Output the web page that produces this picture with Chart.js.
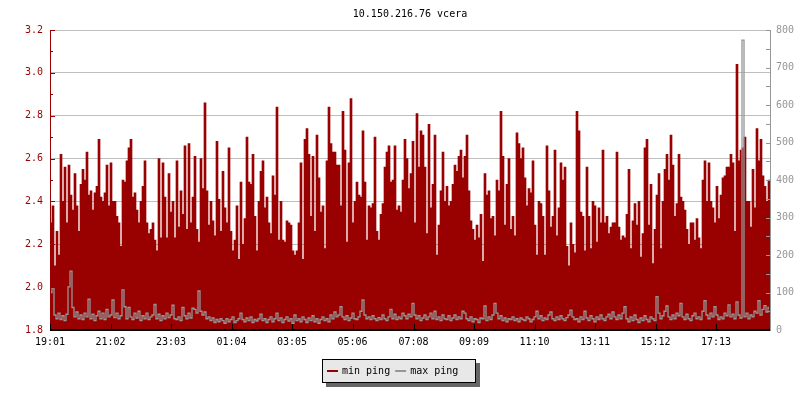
<!DOCTYPE html>
<html>
<head>
<meta charset="utf-8">
<script src="https://cdn.jsdelivr.net/npm/chart.js@4.4.1/dist/chart.umd.min.js"></script>
<style>
  html, body { margin: 0; padding: 0; background: #fff; }
  canvas { display: block; }
</style>
</head>
<body>
<canvas id="chart" width="800" height="400"></canvas>
<script>
// Ping chart for 10.150.216.76 (yesterday), one sample every 4 minutes
var chartTitle = '10.150.216.76 vcera';
var seriesLabels = ['min ping', 'max ping'];
var tickLabels = ['19:01', '21:02', '23:03', '01:04', '03:05', '05:06', '07:08', '09:09', '11:10', '13:11', '15:12', '17:13'];
var tickMinutes = [0, 121, 242, 363, 484, 605, 727, 848, 969, 1090, 1211, 1332];
var spanMinutes = 1440;
var stepMinutes = 4;

// left axis (ms)
var minPing = [
    2.30, 2.38, 2.10, 2.26, 2.15, 2.62, 2.40, 2.56, 2.30, 2.57,
    2.43, 2.36, 2.53, 2.38, 2.26, 2.48, 2.55, 2.50, 2.63, 2.43,
    2.45, 2.36, 2.44, 2.47, 2.69, 2.42, 2.40, 2.44, 2.57, 2.38,
    2.58, 2.40, 2.40, 2.33, 2.30, 2.19, 2.50, 2.49, 2.59, 2.65,
    2.69, 2.42, 2.44, 2.36, 2.30, 2.40, 2.47, 2.59, 2.30, 2.25,
    2.27, 2.30, 2.22, 2.17, 2.60, 2.23, 2.58, 2.42, 2.23, 2.53,
    2.35, 2.40, 2.23, 2.59, 2.28, 2.45, 2.34, 2.66, 2.27, 2.67,
    2.30, 2.42,
    2.61, 2.27, 2.21, 2.60, 2.46, 2.86, 2.45, 2.29, 2.40, 2.31,
    2.24, 2.68, 2.41, 2.26, 2.54, 2.37, 2.30, 2.65, 2.26, 2.17,
    2.22, 2.38, 2.13, 2.49, 2.20, 2.32, 2.70, 2.49, 2.48, 2.62,
    2.33, 2.17, 2.40, 2.54, 2.59, 2.37, 2.42, 2.30, 2.25, 2.52,
    2.43, 2.84, 2.22, 2.40, 2.22, 2.21, 2.31, 2.30, 2.29, 2.17,
    2.15, 2.17, 2.30, 2.58, 2.13, 2.69, 2.74, 2.62, 2.33, 2.61,
    2.26, 2.71, 2.51, 2.35, 2.38, 2.18, 2.59, 2.84, 2.67, 2.63,
    2.63, 2.57,
    2.57, 2.38, 2.82, 2.64, 2.21, 2.58, 2.88, 2.30, 2.40, 2.49,
    2.43, 2.42, 2.73, 2.49, 2.22, 2.38, 2.37, 2.39, 2.70, 2.26,
    2.22, 2.34, 2.39, 2.56, 2.63, 2.66, 2.49, 2.50, 2.66, 2.36,
    2.38, 2.35, 2.50, 2.69, 2.60, 2.46, 2.53, 2.68, 2.30, 2.81,
    2.56, 2.73, 2.71, 2.56, 2.25, 2.76, 2.37, 2.48, 2.71, 2.15,
    2.29, 2.45, 2.63, 2.40, 2.47, 2.38, 2.40, 2.48, 2.57, 2.54,
    2.61, 2.64, 2.51, 2.61, 2.71, 2.45, 2.31, 2.27, 2.22, 2.29,
    2.23, 2.34,
    2.12, 2.53, 2.43, 2.45, 2.32, 2.33, 2.24, 2.50, 2.45, 2.82,
    2.61, 2.29, 2.48, 2.60, 2.27, 2.33, 2.24, 2.72, 2.67, 2.60,
    2.65, 2.51, 2.38, 2.46, 2.44, 2.59, 2.29, 2.15, 2.40, 2.39,
    2.33, 2.15, 2.66, 2.45, 2.28, 2.33, 2.64, 2.24, 2.37, 2.58,
    2.50, 2.56, 2.19, 2.10, 2.30, 2.20, 2.16, 2.82, 2.73, 2.35,
    2.33, 2.17, 2.56, 2.33, 2.18, 2.40, 2.38, 2.21, 2.37, 2.30,
    2.64, 2.30, 2.33, 2.25, 2.28, 2.30, 2.30, 2.63, 2.28, 2.22,
    2.24, 2.23,
    2.34, 2.55, 2.18, 2.31, 2.39, 2.29, 2.40, 2.14, 2.25, 2.65,
    2.69, 2.29, 2.48, 2.11, 2.27, 2.43, 2.53, 2.18, 2.40, 2.55,
    2.62, 2.50, 2.71, 2.57, 2.33, 2.39, 2.62, 2.42, 2.40, 2.36,
    2.27, 2.20, 2.30, 2.30, 2.22, 2.32, 2.23, 2.18, 2.50, 2.59,
    2.40, 2.58, 2.40, 2.37, 2.30, 2.47, 2.32, 2.43, 2.51, 2.52,
    2.56, 2.56, 2.62, 2.58, 2.26, 3.04, 2.59, 2.64, 2.65, 2.70,
    2.40, 2.40, 2.28, 2.55, 2.37, 2.74, 2.59, 2.69, 2.52, 2.47,
    2.40, 2.50
];

// right axis (ms)
var maxPing = [
    100, 112, 40, 30, 45, 28, 38, 25, 42, 115,
    157, 60, 35, 48, 30, 40, 28, 45, 35, 82,
    30, 42, 25, 38, 50, 30, 45, 28, 55, 35,
    40, 80, 33, 45, 30, 38, 107, 62, 30, 60,
    35, 28, 45, 32, 50, 25, 38, 30, 45, 28,
    35, 40, 68, 30, 42, 25, 38, 30, 45, 33,
    40, 66, 30, 28, 35, 25, 60, 38, 30, 45,
    32, 58,
    55, 45, 104, 50, 40, 48, 30, 35, 25, 32,
    20, 28, 22, 30, 25, 18, 30, 22, 28, 35,
    20, 25, 30, 45, 28, 22, 32, 25, 35, 20,
    28, 24, 30, 42, 25, 30, 20, 28, 35, 22,
    30, 45, 25, 32, 20, 28, 35, 24, 30, 18,
    40, 25, 30, 22, 35, 28, 20, 32, 25, 38,
    22, 30, 18, 28, 35, 25, 30, 22, 40, 30,
    48, 35,
    40, 62, 35, 28, 38, 25, 32, 45, 30, 28,
    35, 50, 80, 40, 30, 35, 28, 38, 30, 25,
    33, 28, 40, 30, 25, 35, 55, 30, 42, 28,
    35, 30, 45, 38, 30, 42, 35, 71, 40, 30,
    38, 25, 32, 40, 28, 35, 45, 30, 50, 28,
    35, 25, 40, 30, 28, 38, 25, 32, 40, 28,
    35, 30, 50, 45, 30, 25, 35, 22, 30, 28,
    20, 32,
    30, 64, 25, 35, 28, 40, 71, 45, 30, 38,
    25, 32, 22, 30, 28, 35, 25, 30, 22, 32,
    28, 25, 35, 30, 22, 28, 35, 50, 30, 38,
    25, 32, 28, 40, 48, 30, 25, 35, 28, 38,
    30, 25, 33, 40, 53, 35, 28, 30, 22, 35,
    28, 50, 32, 25, 38, 30, 22, 35, 28, 40,
    30, 25, 35, 42, 30, 48, 35, 28, 40, 30,
    45, 62,
    30, 22, 35, 25, 40, 28, 20, 32, 25, 38,
    28, 22, 35, 30, 25, 89, 45, 30, 38, 50,
    64, 35, 28, 40, 30, 45, 38, 71, 35, 28,
    42, 30, 25, 38, 45, 30, 35, 28, 50, 78,
    40, 30, 45, 35, 62, 40, 28, 35, 30, 45,
    38, 67, 35, 42, 30, 75, 40, 32, 773, 35,
    45, 30, 40, 35, 50, 45, 78, 40, 55, 65,
    48, 60
];

var RED = '#990000';
var GRAY = '#969696';
var GRID = '#bebebe';
var FONT = "'DejaVu Sans Mono', monospace";

function toPoints(values) {
    return values.map(function (v, i) {
        return { x: i * stepMinutes + stepMinutes / 2, y: v };
    });
}

// axis lines and the short inside tick marks
var axisDecor = {
    id: 'axisDecor',
    afterDatasetsDraw: function (chart) {
        var ctx = chart.ctx, a = chart.chartArea, s = chart.scales;
        ctx.save();
        ctx.fillStyle = RED;
        ctx.fillRect(a.left, a.top, 1, a.bottom - a.top);
        s.y.ticks.forEach(function (t, i) {
            var y = Math.round(s.y.getPixelForValue(t.value));
            ctx.fillRect(a.left, y, i % 2 ? 3 : 5, 1);
        });
        ctx.fillStyle = GRAY;
        ctx.fillRect(a.right, a.top, 1, a.bottom - a.top + 1);
        s.y1.ticks.forEach(function (t) {
            var y = Math.round(s.y1.getPixelForValue(t.value));
            ctx.fillRect(a.right - 4, y, 4, 1);
        });
        ctx.fillStyle = '#000';
        ctx.fillRect(a.left, a.bottom - 1, a.right - a.left, 2);
        s.x.ticks.forEach(function (t) {
            var x = Math.round(s.x.getPixelForValue(t.value));
            ctx.fillRect(x, a.bottom - 6, 1, 6);
        });
        ctx.restore();
    }
};

// boxed legend with drop shadow under the plot
var boxLegend = {
    id: 'boxLegend',
    afterDraw: function (chart) {
        var ctx = chart.ctx;
        var bx = 322, by = 359, bw = 154, bh = 24;
        ctx.save();
        ctx.fillStyle = '#666666';
        ctx.fillRect(bx + 4, by + 4, bw, bh);
        ctx.fillStyle = '#e8e8e8';
        ctx.fillRect(bx, by, bw, bh);
        ctx.strokeStyle = '#000';
        ctx.lineWidth = 1;
        ctx.strokeRect(bx + 0.5, by + 0.5, bw - 1, bh - 1);
        ctx.font = '10px ' + FONT;
        ctx.textBaseline = 'middle';
        var cx = bx + 5, cy = by + 12;
        [0, 1].forEach(function (i) {
            var ds = chart.data.datasets[i];
            ctx.fillStyle = ds.legendColor;
            ctx.fillRect(cx, cy - 1, 11, 2);
            cx += 15;
            ctx.fillStyle = '#000';
            ctx.fillText(ds.label, cx, cy);
            cx += ctx.measureText(ds.label).width + 5;
        });
        ctx.restore();
    }
};

new Chart(document.getElementById('chart'), {
    type: 'bar',
    data: {
        datasets: [{
            type: 'bar',
            label: seriesLabels[0],
            data: toPoints(minPing),
            backgroundColor: RED,
            legendColor: RED,
            borderWidth: 0,
            barPercentage: 1,
            categoryPercentage: 1,
            yAxisID: 'y',
            order: 2
        }, {
            type: 'line',
            label: seriesLabels[1],
            data: toPoints(maxPing),
            borderColor: GRAY,
            legendColor: GRAY,
            borderWidth: 1.3,
            pointRadius: 0,
            stepped: 'middle',
            fill: false,
            yAxisID: 'y1',
            order: 1
        }]
    },
    options: {
        responsive: false,
        animation: false,
        events: [],
        devicePixelRatio: 1,
        layout: { padding: 0 },
        plugins: {
            legend: { display: false },
            tooltip: { enabled: false },
            title: {
                display: true,
                text: chartTitle,
                fullSize: false,
                color: '#000',
                font: { family: FONT, size: 10, weight: 'normal' },
                padding: { top: 8, bottom: 10 }
            }
        },
        scales: {
            x: {
                type: 'linear',
                min: 0,
                max: spanMinutes,
                offset: false,
                grid: { display: false },
                border: { display: false },
                afterBuildTicks: function (scale) {
                    scale.ticks = tickMinutes.map(function (m) { return { value: m }; });
                },
                afterFit: function (scale) { scale.height = 70; },
                ticks: {
                    autoSkip: false,
                    maxRotation: 0,
                    padding: -2,
                    color: '#000',
                    font: { family: FONT, size: 10 },
                    callback: function (value, index) { return tickLabels[index]; }
                }
            },
            y: {
                position: 'left',
                min: 1.8,
                max: 3.2,
                afterFit: function (scale) { scale.width = 50; },
                grid: {
                    drawTicks: false,
                    color: function (c) { return c.index % 2 === 0 ? GRID : 'rgba(0,0,0,0)'; }
                },
                border: { display: false },
                ticks: {
                    stepSize: 0.1,
                    autoSkip: false,
                    padding: 7,
                    color: RED,
                    font: { family: FONT, size: 10 },
                    callback: function (value, index) { return index % 2 === 0 ? value.toFixed(1) : ''; }
                }
            },
            y1: {
                position: 'right',
                min: 0,
                max: 800,
                afterFit: function (scale) { scale.width = 30; },
                grid: { display: false, drawTicks: false },
                border: { display: false },
                ticks: {
                    stepSize: 50,
                    autoSkip: false,
                    padding: 6,
                    color: GRAY,
                    font: { family: FONT, size: 10 },
                    callback: function (value, index) { return index % 2 === 0 ? String(value) : ''; }
                }
            }
        }
    },
    plugins: [axisDecor, boxLegend]
});
</script>
</body>
</html>
